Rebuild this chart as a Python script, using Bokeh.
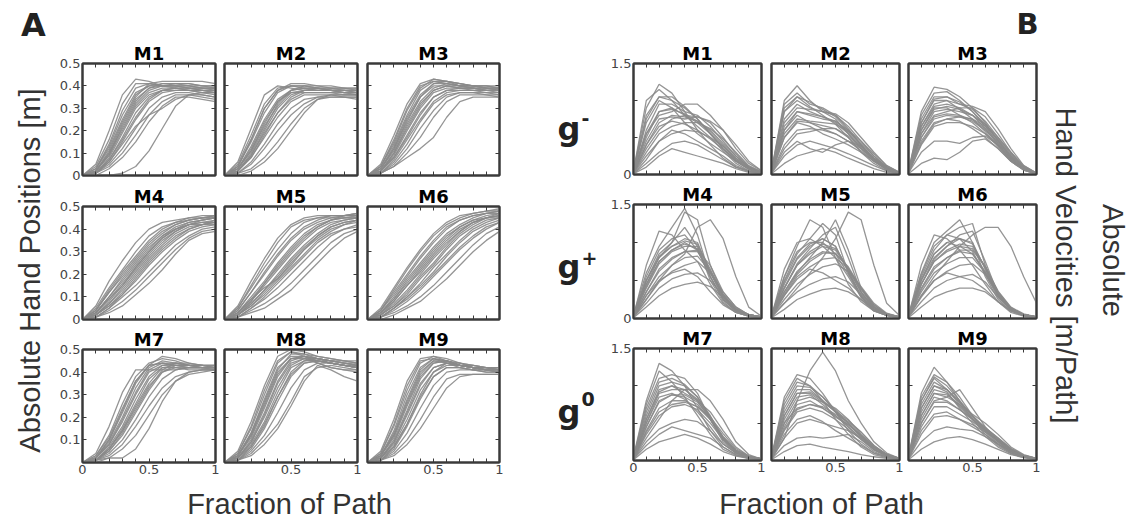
from math import pi
from bokeh.plotting import figure
from bokeh.layouts import row, column
from bokeh.models import Range1d, FixedTicker, LinearAxis, Label, NumeralTickFormatter
from bokeh.embed import file_html
from bokeh.resources import INLINE

# ---------------- data ----------------
X_FRAC = [0.0, 0.1, 0.2, 0.3, 0.4, 0.5, 0.6, 0.7, 0.8, 0.9, 1.0]
X_TICKS = [0.0, 0.1, 0.2, 0.3, 0.4, 0.5, 0.6, 0.7, 0.8, 0.9, 1.0]
POS_Y_TICKS = [0.0, 0.1, 0.2, 0.3, 0.4, 0.5]
VEL_Y_TICKS = [0.0, 0.5, 1.0, 1.5]
TITLES = ["M1", "M2", "M3", "M4", "M5", "M6", "M7", "M8", "M9"]
GROUP_SUPERSCRIPTS = ["-", "+", "0"]

# Absolute hand positions [m] at X_FRAC, per movement
POS_M1 = [
    [0, 0.05, 0.20, 0.36, 0.43, 0.42, 0.40, 0.40, 0.39, 0.39, 0.38],
    [0, 0.04, 0.16, 0.32, 0.41, 0.41, 0.40, 0.40, 0.40, 0.39, 0.39],
    [0, 0.03, 0.13, 0.27, 0.37, 0.40, 0.40, 0.40, 0.39, 0.39, 0.39],
    [0, 0.02, 0.10, 0.23, 0.34, 0.39, 0.40, 0.40, 0.40, 0.39, 0.39],
    [0, 0.02, 0.09, 0.20, 0.31, 0.37, 0.39, 0.39, 0.38, 0.38, 0.37],
    [0, 0.01, 0.07, 0.17, 0.28, 0.35, 0.38, 0.38, 0.38, 0.37, 0.36],
    [0, 0.01, 0.06, 0.15, 0.25, 0.33, 0.37, 0.38, 0.38, 0.38, 0.37],
    [0, 0.01, 0.05, 0.12, 0.21, 0.30, 0.35, 0.37, 0.37, 0.36, 0.35],
    [0, 0.01, 0.04, 0.10, 0.18, 0.27, 0.33, 0.36, 0.36, 0.35, 0.34],
    [0, 0.00, 0.03, 0.08, 0.15, 0.24, 0.31, 0.35, 0.35, 0.34, 0.33],
    [0, 0.00, 0.00, 0.01, 0.04, 0.11, 0.21, 0.31, 0.36, 0.37, 0.37],
    [0, 0.02, 0.11, 0.24, 0.35, 0.41, 0.42, 0.42, 0.42, 0.42, 0.41],
    [0, 0.03, 0.12, 0.25, 0.36, 0.40, 0.41, 0.41, 0.41, 0.40, 0.40],
    [0, 0.01, 0.08, 0.19, 0.30, 0.36, 0.38, 0.39, 0.39, 0.38, 0.38],
    [0, 0.01, 0.06, 0.14, 0.22, 0.27, 0.30, 0.34, 0.36, 0.36, 0.35],
    [0, 0.03, 0.14, 0.29, 0.39, 0.41, 0.40, 0.39, 0.39, 0.38, 0.38],
    [0, 0.02, 0.10, 0.21, 0.32, 0.38, 0.40, 0.41, 0.41, 0.40, 0.40],
    [0, 0.01, 0.07, 0.16, 0.26, 0.34, 0.38, 0.39, 0.38, 0.37, 0.37],
    [0, 0.02, 0.09, 0.22, 0.33, 0.39, 0.41, 0.41, 0.40, 0.40, 0.39],
]
POS_M2 = [
    [0, 0.06, 0.21, 0.36, 0.40, 0.39, 0.38, 0.38, 0.38, 0.37, 0.37],
    [0, 0.05, 0.18, 0.32, 0.39, 0.40, 0.39, 0.39, 0.38, 0.38, 0.38],
    [0, 0.04, 0.15, 0.28, 0.37, 0.40, 0.40, 0.39, 0.39, 0.39, 0.38],
    [0, 0.03, 0.13, 0.25, 0.34, 0.38, 0.39, 0.39, 0.38, 0.38, 0.38],
    [0, 0.03, 0.11, 0.22, 0.31, 0.37, 0.38, 0.38, 0.38, 0.37, 0.37],
    [0, 0.02, 0.09, 0.19, 0.28, 0.34, 0.37, 0.37, 0.37, 0.37, 0.36],
    [0, 0.02, 0.08, 0.17, 0.26, 0.33, 0.36, 0.36, 0.36, 0.35, 0.35],
    [0, 0.01, 0.06, 0.14, 0.23, 0.30, 0.34, 0.35, 0.35, 0.35, 0.34],
    [0, 0.01, 0.05, 0.12, 0.20, 0.27, 0.32, 0.35, 0.36, 0.36, 0.36],
    [0, 0.01, 0.03, 0.08, 0.15, 0.23, 0.30, 0.34, 0.35, 0.35, 0.35],
    [0, 0.00, 0.02, 0.06, 0.12, 0.20, 0.28, 0.34, 0.36, 0.36, 0.36],
    [0, 0.04, 0.16, 0.30, 0.38, 0.41, 0.41, 0.40, 0.40, 0.39, 0.39],
    [0, 0.02, 0.10, 0.21, 0.32, 0.38, 0.40, 0.40, 0.39, 0.39, 0.39],
    [0, 0.03, 0.12, 0.24, 0.33, 0.37, 0.37, 0.37, 0.37, 0.36, 0.36],
    [0, 0.04, 0.16, 0.30, 0.38, 0.40, 0.40, 0.39, 0.38, 0.38, 0.37],
    [0, 0.03, 0.11, 0.23, 0.33, 0.38, 0.39, 0.38, 0.38, 0.37, 0.37],
    [0, 0.02, 0.08, 0.18, 0.28, 0.35, 0.38, 0.38, 0.38, 0.38, 0.37],
    [0, 0.02, 0.09, 0.20, 0.30, 0.36, 0.38, 0.39, 0.39, 0.38, 0.38],
]
POS_M3 = [
    [0, 0.05, 0.18, 0.32, 0.41, 0.43, 0.42, 0.40, 0.39, 0.39, 0.38],
    [0, 0.04, 0.15, 0.29, 0.39, 0.43, 0.42, 0.41, 0.40, 0.39, 0.39],
    [0, 0.03, 0.13, 0.26, 0.36, 0.41, 0.41, 0.40, 0.40, 0.39, 0.39],
    [0, 0.03, 0.11, 0.23, 0.33, 0.39, 0.41, 0.40, 0.40, 0.40, 0.39],
    [0, 0.02, 0.09, 0.20, 0.30, 0.37, 0.39, 0.39, 0.39, 0.38, 0.38],
    [0, 0.02, 0.08, 0.17, 0.27, 0.35, 0.38, 0.38, 0.38, 0.38, 0.37],
    [0, 0.01, 0.06, 0.14, 0.24, 0.32, 0.36, 0.37, 0.37, 0.37, 0.36],
    [0, 0.01, 0.05, 0.12, 0.21, 0.29, 0.35, 0.37, 0.37, 0.36, 0.36],
    [0, 0.01, 0.04, 0.10, 0.17, 0.26, 0.33, 0.36, 0.36, 0.36, 0.35],
    [0, 0.01, 0.04, 0.08, 0.12, 0.17, 0.26, 0.33, 0.35, 0.35, 0.35],
    [0, 0.04, 0.16, 0.30, 0.40, 0.42, 0.41, 0.40, 0.40, 0.40, 0.40],
    [0, 0.02, 0.10, 0.21, 0.31, 0.38, 0.40, 0.40, 0.39, 0.39, 0.38],
    [0, 0.03, 0.12, 0.24, 0.35, 0.40, 0.40, 0.39, 0.38, 0.37, 0.37],
    [0, 0.01, 0.07, 0.16, 0.25, 0.33, 0.37, 0.38, 0.38, 0.38, 0.38],
    [0, 0.04, 0.14, 0.27, 0.38, 0.42, 0.42, 0.41, 0.40, 0.39, 0.39],
    [0, 0.02, 0.10, 0.22, 0.32, 0.38, 0.40, 0.39, 0.39, 0.38, 0.38],
    [0, 0.02, 0.08, 0.18, 0.28, 0.35, 0.38, 0.39, 0.39, 0.38, 0.38],
    [0, 0.03, 0.12, 0.25, 0.35, 0.41, 0.42, 0.41, 0.40, 0.40, 0.39],
]
POS_M4 = [
    [0, 0.06, 0.17, 0.26, 0.34, 0.40, 0.43, 0.44, 0.45, 0.46, 0.46],
    [0, 0.05, 0.14, 0.22, 0.30, 0.37, 0.41, 0.43, 0.44, 0.45, 0.45],
    [0, 0.04, 0.12, 0.20, 0.27, 0.34, 0.39, 0.42, 0.44, 0.45, 0.45],
    [0, 0.03, 0.10, 0.17, 0.24, 0.31, 0.37, 0.41, 0.43, 0.44, 0.45],
    [0, 0.03, 0.09, 0.15, 0.22, 0.29, 0.35, 0.39, 0.42, 0.43, 0.44],
    [0, 0.02, 0.07, 0.13, 0.20, 0.27, 0.33, 0.38, 0.41, 0.42, 0.43],
    [0, 0.02, 0.06, 0.11, 0.17, 0.24, 0.30, 0.35, 0.39, 0.41, 0.42],
    [0, 0.01, 0.05, 0.10, 0.15, 0.21, 0.27, 0.33, 0.37, 0.40, 0.41],
    [0, 0.01, 0.04, 0.08, 0.13, 0.19, 0.25, 0.31, 0.36, 0.39, 0.40],
    [0, 0.01, 0.03, 0.06, 0.11, 0.16, 0.22, 0.29, 0.35, 0.38, 0.39],
    [0, 0.04, 0.13, 0.21, 0.28, 0.35, 0.40, 0.43, 0.45, 0.45, 0.46],
    [0, 0.02, 0.08, 0.15, 0.23, 0.30, 0.36, 0.40, 0.42, 0.43, 0.43],
    [0, 0.03, 0.10, 0.18, 0.25, 0.32, 0.37, 0.40, 0.42, 0.42, 0.42],
    [0, 0.01, 0.05, 0.11, 0.18, 0.25, 0.31, 0.36, 0.40, 0.42, 0.44],
    [0, 0.04, 0.12, 0.19, 0.26, 0.33, 0.38, 0.42, 0.44, 0.45, 0.46],
    [0, 0.03, 0.09, 0.16, 0.23, 0.30, 0.36, 0.40, 0.43, 0.44, 0.45],
    [0, 0.02, 0.07, 0.14, 0.21, 0.28, 0.34, 0.39, 0.42, 0.44, 0.45],
    [0, 0.02, 0.06, 0.12, 0.19, 0.26, 0.32, 0.37, 0.40, 0.42, 0.43],
]
POS_M5 = [
    [0, 0.06, 0.17, 0.27, 0.36, 0.42, 0.45, 0.46, 0.46, 0.46, 0.46],
    [0, 0.05, 0.14, 0.23, 0.31, 0.38, 0.43, 0.45, 0.46, 0.46, 0.47],
    [0, 0.04, 0.12, 0.20, 0.28, 0.35, 0.40, 0.43, 0.45, 0.46, 0.46],
    [0, 0.03, 0.10, 0.17, 0.25, 0.32, 0.38, 0.42, 0.44, 0.45, 0.45],
    [0, 0.03, 0.08, 0.15, 0.22, 0.29, 0.35, 0.40, 0.43, 0.44, 0.45],
    [0, 0.02, 0.07, 0.13, 0.19, 0.26, 0.32, 0.37, 0.41, 0.43, 0.44],
    [0, 0.02, 0.06, 0.11, 0.17, 0.23, 0.29, 0.35, 0.39, 0.42, 0.43],
    [0, 0.01, 0.05, 0.09, 0.14, 0.20, 0.26, 0.32, 0.37, 0.40, 0.42],
    [0, 0.01, 0.04, 0.07, 0.11, 0.16, 0.22, 0.28, 0.34, 0.38, 0.40],
    [0, 0.01, 0.03, 0.05, 0.09, 0.13, 0.19, 0.25, 0.31, 0.36, 0.39],
    [0, 0.05, 0.15, 0.25, 0.34, 0.41, 0.44, 0.45, 0.45, 0.45, 0.45],
    [0, 0.02, 0.08, 0.16, 0.24, 0.31, 0.37, 0.41, 0.44, 0.46, 0.47],
    [0, 0.03, 0.09, 0.14, 0.18, 0.24, 0.31, 0.37, 0.41, 0.43, 0.44],
    [0, 0.01, 0.05, 0.10, 0.16, 0.22, 0.28, 0.34, 0.38, 0.40, 0.41],
    [0, 0.04, 0.12, 0.21, 0.29, 0.36, 0.41, 0.44, 0.46, 0.46, 0.47],
    [0, 0.03, 0.09, 0.16, 0.23, 0.30, 0.36, 0.41, 0.44, 0.45, 0.46],
    [0, 0.02, 0.07, 0.13, 0.20, 0.27, 0.33, 0.38, 0.42, 0.44, 0.45],
    [0, 0.02, 0.06, 0.12, 0.18, 0.25, 0.31, 0.36, 0.40, 0.42, 0.44],
]
POS_M6 = [
    [0, 0.05, 0.14, 0.23, 0.31, 0.38, 0.43, 0.46, 0.47, 0.48, 0.48],
    [0, 0.04, 0.12, 0.20, 0.28, 0.35, 0.41, 0.44, 0.46, 0.47, 0.48],
    [0, 0.03, 0.10, 0.18, 0.25, 0.32, 0.38, 0.42, 0.45, 0.47, 0.47],
    [0, 0.03, 0.09, 0.16, 0.23, 0.30, 0.36, 0.41, 0.44, 0.46, 0.47],
    [0, 0.02, 0.07, 0.13, 0.20, 0.27, 0.33, 0.39, 0.43, 0.45, 0.46],
    [0, 0.02, 0.06, 0.11, 0.18, 0.24, 0.31, 0.37, 0.41, 0.44, 0.45],
    [0, 0.01, 0.05, 0.10, 0.15, 0.21, 0.28, 0.34, 0.39, 0.42, 0.44],
    [0, 0.01, 0.04, 0.08, 0.13, 0.19, 0.25, 0.31, 0.36, 0.40, 0.43],
    [0, 0.01, 0.03, 0.06, 0.10, 0.15, 0.21, 0.27, 0.33, 0.38, 0.41],
    [0, 0.00, 0.02, 0.05, 0.08, 0.13, 0.18, 0.24, 0.30, 0.35, 0.39],
    [0, 0.04, 0.13, 0.22, 0.30, 0.37, 0.42, 0.45, 0.47, 0.48, 0.49],
    [0, 0.02, 0.08, 0.15, 0.22, 0.29, 0.35, 0.40, 0.43, 0.45, 0.46],
    [0, 0.03, 0.09, 0.17, 0.24, 0.31, 0.37, 0.41, 0.44, 0.45, 0.45],
    [0, 0.01, 0.05, 0.09, 0.14, 0.20, 0.26, 0.32, 0.37, 0.41, 0.43],
    [0, 0.04, 0.11, 0.19, 0.27, 0.34, 0.40, 0.44, 0.46, 0.47, 0.48],
    [0, 0.03, 0.08, 0.15, 0.21, 0.28, 0.34, 0.39, 0.43, 0.45, 0.46],
    [0, 0.02, 0.06, 0.12, 0.19, 0.25, 0.32, 0.38, 0.42, 0.45, 0.47],
    [0, 0.01, 0.05, 0.10, 0.16, 0.23, 0.29, 0.35, 0.40, 0.43, 0.45],
]
POS_M7 = [
    [0, 0.04, 0.16, 0.31, 0.41, 0.41, 0.41, 0.41, 0.42, 0.42, 0.42],
    [0, 0.03, 0.12, 0.26, 0.38, 0.44, 0.46, 0.45, 0.43, 0.43, 0.42],
    [0, 0.02, 0.10, 0.22, 0.35, 0.43, 0.47, 0.46, 0.44, 0.43, 0.43],
    [0, 0.02, 0.08, 0.19, 0.31, 0.41, 0.44, 0.44, 0.43, 0.43, 0.42],
    [0, 0.01, 0.07, 0.16, 0.28, 0.38, 0.43, 0.44, 0.43, 0.43, 0.43],
    [0, 0.01, 0.06, 0.14, 0.25, 0.35, 0.42, 0.43, 0.43, 0.42, 0.42],
    [0, 0.01, 0.05, 0.12, 0.22, 0.32, 0.40, 0.43, 0.43, 0.43, 0.42],
    [0, 0.01, 0.04, 0.10, 0.19, 0.29, 0.37, 0.41, 0.42, 0.42, 0.42],
    [0, 0.01, 0.03, 0.08, 0.16, 0.25, 0.33, 0.38, 0.40, 0.41, 0.41],
    [0, 0.00, 0.02, 0.06, 0.12, 0.21, 0.30, 0.36, 0.39, 0.40, 0.41],
    [0, 0.01, 0.02, 0.02, 0.06, 0.15, 0.27, 0.36, 0.40, 0.41, 0.41],
    [0, 0.03, 0.11, 0.24, 0.36, 0.43, 0.44, 0.43, 0.42, 0.42, 0.41],
    [0, 0.02, 0.09, 0.20, 0.33, 0.42, 0.45, 0.44, 0.43, 0.42, 0.42],
    [0, 0.01, 0.06, 0.15, 0.26, 0.37, 0.42, 0.42, 0.41, 0.41, 0.41],
    [0, 0.02, 0.10, 0.23, 0.36, 0.43, 0.44, 0.43, 0.43, 0.42, 0.42],
    [0, 0.02, 0.08, 0.18, 0.30, 0.40, 0.43, 0.43, 0.42, 0.42, 0.42],
    [0, 0.01, 0.06, 0.14, 0.24, 0.34, 0.40, 0.42, 0.42, 0.42, 0.42],
    [0, 0.01, 0.05, 0.13, 0.23, 0.33, 0.41, 0.44, 0.44, 0.43, 0.43],
]
POS_M8 = [
    [0, 0.05, 0.18, 0.34, 0.47, 0.50, 0.49, 0.47, 0.46, 0.45, 0.44],
    [0, 0.04, 0.15, 0.30, 0.44, 0.49, 0.48, 0.47, 0.46, 0.45, 0.45],
    [0, 0.03, 0.13, 0.27, 0.41, 0.48, 0.48, 0.46, 0.45, 0.44, 0.43],
    [0, 0.03, 0.11, 0.24, 0.38, 0.46, 0.47, 0.45, 0.44, 0.43, 0.42],
    [0, 0.02, 0.09, 0.21, 0.35, 0.44, 0.46, 0.45, 0.44, 0.43, 0.42],
    [0, 0.02, 0.08, 0.18, 0.31, 0.42, 0.45, 0.45, 0.44, 0.43, 0.42],
    [0, 0.01, 0.06, 0.15, 0.27, 0.38, 0.44, 0.45, 0.44, 0.43, 0.43],
    [0, 0.01, 0.05, 0.12, 0.22, 0.33, 0.41, 0.44, 0.44, 0.43, 0.42],
    [0, 0.01, 0.04, 0.10, 0.17, 0.27, 0.38, 0.42, 0.43, 0.42, 0.41],
    [0, 0.01, 0.03, 0.08, 0.15, 0.25, 0.36, 0.43, 0.41, 0.38, 0.36],
    [0, 0.04, 0.16, 0.32, 0.45, 0.49, 0.47, 0.44, 0.42, 0.41, 0.40],
    [0, 0.02, 0.10, 0.22, 0.36, 0.45, 0.47, 0.46, 0.45, 0.45, 0.44],
    [0, 0.03, 0.12, 0.26, 0.40, 0.46, 0.46, 0.44, 0.42, 0.41, 0.41],
    [0, 0.01, 0.07, 0.16, 0.29, 0.40, 0.45, 0.46, 0.45, 0.44, 0.44],
    [0, 0.03, 0.12, 0.25, 0.39, 0.46, 0.47, 0.46, 0.45, 0.44, 0.43],
    [0, 0.02, 0.09, 0.20, 0.33, 0.43, 0.46, 0.46, 0.45, 0.44, 0.43],
    [0, 0.02, 0.07, 0.17, 0.29, 0.39, 0.44, 0.45, 0.44, 0.43, 0.42],
    [0, 0.03, 0.13, 0.28, 0.42, 0.47, 0.47, 0.46, 0.44, 0.43, 0.42],
]
POS_M9 = [
    [0, 0.05, 0.19, 0.36, 0.46, 0.47, 0.45, 0.43, 0.42, 0.42, 0.41],
    [0, 0.04, 0.16, 0.32, 0.44, 0.47, 0.46, 0.44, 0.42, 0.42, 0.42],
    [0, 0.03, 0.13, 0.28, 0.41, 0.46, 0.45, 0.43, 0.42, 0.41, 0.41],
    [0, 0.03, 0.11, 0.25, 0.38, 0.44, 0.45, 0.43, 0.42, 0.42, 0.41],
    [0, 0.02, 0.09, 0.22, 0.35, 0.42, 0.44, 0.43, 0.42, 0.41, 0.41],
    [0, 0.02, 0.08, 0.19, 0.32, 0.40, 0.43, 0.43, 0.42, 0.41, 0.40],
    [0, 0.01, 0.06, 0.16, 0.28, 0.38, 0.42, 0.42, 0.41, 0.41, 0.40],
    [0, 0.01, 0.05, 0.13, 0.24, 0.34, 0.40, 0.41, 0.41, 0.40, 0.40],
    [0, 0.01, 0.04, 0.10, 0.19, 0.29, 0.37, 0.39, 0.39, 0.39, 0.39],
    [0, 0.01, 0.03, 0.08, 0.15, 0.24, 0.33, 0.38, 0.39, 0.39, 0.39],
    [0, 0.04, 0.17, 0.34, 0.45, 0.46, 0.44, 0.43, 0.43, 0.42, 0.42],
    [0, 0.02, 0.10, 0.23, 0.37, 0.44, 0.45, 0.44, 0.43, 0.42, 0.42],
    [0, 0.03, 0.12, 0.27, 0.40, 0.45, 0.44, 0.42, 0.41, 0.40, 0.40],
    [0, 0.01, 0.07, 0.17, 0.30, 0.40, 0.44, 0.44, 0.43, 0.42, 0.41],
    [0, 0.03, 0.12, 0.26, 0.39, 0.45, 0.45, 0.43, 0.42, 0.42, 0.41],
    [0, 0.02, 0.09, 0.21, 0.34, 0.42, 0.44, 0.43, 0.42, 0.41, 0.41],
    [0, 0.02, 0.07, 0.17, 0.29, 0.38, 0.42, 0.42, 0.41, 0.41, 0.40],
    [0, 0.03, 0.14, 0.30, 0.42, 0.46, 0.45, 0.43, 0.42, 0.41, 0.41],
]

# Absolute hand velocities [m/Path] at X_FRAC, per movement
VEL_M1 = [
    [0.05, 0.90, 1.22, 1.10, 0.85, 0.60, 0.40, 0.22, 0.10, 0.04, 0.01],
    [0.05, 0.80, 1.05, 1.00, 0.90, 0.75, 0.55, 0.35, 0.18, 0.07, 0.02],
    [0.03, 0.60, 0.95, 0.95, 0.85, 0.80, 0.65, 0.45, 0.25, 0.10, 0.03],
    [0.03, 0.50, 0.85, 0.90, 0.80, 0.70, 0.55, 0.38, 0.20, 0.08, 0.02],
    [0.02, 0.40, 0.70, 0.80, 0.78, 0.72, 0.60, 0.42, 0.25, 0.10, 0.03],
    [0.02, 0.30, 0.55, 0.65, 0.70, 0.70, 0.62, 0.48, 0.30, 0.12, 0.04],
    [0.02, 0.25, 0.45, 0.55, 0.60, 0.58, 0.50, 0.38, 0.22, 0.10, 0.03],
    [0.01, 0.15, 0.30, 0.42, 0.45, 0.40, 0.30, 0.20, 0.10, 0.05, 0.02],
    [0.01, 0.10, 0.25, 0.35, 0.30, 0.25, 0.20, 0.15, 0.08, 0.03, 0.01],
    [0.05, 1.00, 1.15, 1.00, 0.80, 0.65, 0.50, 0.32, 0.15, 0.05, 0.01],
    [0.03, 0.55, 0.80, 0.85, 0.95, 0.95, 0.80, 0.60, 0.35, 0.15, 0.05],
    [0.02, 0.35, 0.60, 0.75, 0.80, 0.78, 0.72, 0.60, 0.40, 0.18, 0.05],
    [0.01, 0.20, 0.45, 0.60, 0.55, 0.45, 0.35, 0.25, 0.12, 0.05, 0.02],
    [0.04, 0.70, 1.00, 0.90, 0.70, 0.55, 0.42, 0.30, 0.18, 0.08, 0.02],
    [0.04, 0.75, 1.05, 1.05, 0.92, 0.75, 0.55, 0.35, 0.18, 0.07, 0.02],
    [0.03, 0.55, 0.85, 0.88, 0.82, 0.72, 0.58, 0.40, 0.22, 0.09, 0.03],
    [0.02, 0.40, 0.65, 0.72, 0.68, 0.60, 0.48, 0.34, 0.20, 0.08, 0.02],
    [0.03, 0.45, 0.75, 0.78, 0.75, 0.78, 0.70, 0.50, 0.28, 0.11, 0.03],
]
VEL_M2 = [
    [0.05, 1.00, 1.20, 1.00, 0.85, 0.75, 0.55, 0.35, 0.18, 0.06, 0.01],
    [0.05, 0.95, 1.10, 0.95, 0.90, 0.80, 0.62, 0.40, 0.20, 0.07, 0.02],
    [0.04, 0.85, 1.00, 0.90, 0.85, 0.80, 0.65, 0.45, 0.25, 0.10, 0.02],
    [0.04, 0.75, 0.95, 0.85, 0.78, 0.70, 0.55, 0.38, 0.20, 0.08, 0.02],
    [0.03, 0.65, 0.85, 0.80, 0.75, 0.72, 0.60, 0.45, 0.28, 0.12, 0.03],
    [0.03, 0.55, 0.75, 0.72, 0.70, 0.68, 0.58, 0.42, 0.25, 0.10, 0.02],
    [0.02, 0.40, 0.60, 0.62, 0.60, 0.55, 0.45, 0.32, 0.18, 0.08, 0.02],
    [0.02, 0.25, 0.40, 0.45, 0.40, 0.35, 0.28, 0.20, 0.12, 0.05, 0.01],
    [0.01, 0.15, 0.25, 0.30, 0.35, 0.30, 0.22, 0.15, 0.08, 0.03, 0.01],
    [0.02, 0.30, 0.45, 0.35, 0.30, 0.40, 0.45, 0.38, 0.22, 0.08, 0.02],
    [0.04, 0.90, 1.05, 0.92, 0.80, 0.68, 0.50, 0.30, 0.15, 0.05, 0.01],
    [0.03, 0.70, 0.90, 0.88, 0.85, 0.82, 0.70, 0.50, 0.30, 0.12, 0.03],
    [0.02, 0.50, 0.70, 0.65, 0.55, 0.48, 0.40, 0.30, 0.18, 0.07, 0.02],
    [0.03, 0.60, 0.80, 0.70, 0.62, 0.55, 0.45, 0.35, 0.22, 0.10, 0.02],
    [0.04, 0.85, 1.05, 0.98, 0.88, 0.78, 0.60, 0.40, 0.22, 0.08, 0.02],
    [0.03, 0.60, 0.85, 0.82, 0.78, 0.72, 0.58, 0.40, 0.22, 0.09, 0.02],
    [0.03, 0.50, 0.72, 0.70, 0.66, 0.62, 0.52, 0.38, 0.22, 0.09, 0.02],
    [0.02, 0.35, 0.55, 0.58, 0.62, 0.62, 0.50, 0.35, 0.20, 0.08, 0.02],
]
VEL_M3 = [
    [0.05, 0.85, 1.18, 1.15, 1.05, 0.90, 0.70, 0.45, 0.22, 0.08, 0.01],
    [0.05, 0.80, 1.10, 1.12, 1.00, 0.85, 0.65, 0.42, 0.20, 0.07, 0.01],
    [0.04, 0.70, 1.00, 1.00, 0.95, 0.88, 0.72, 0.50, 0.28, 0.10, 0.02],
    [0.04, 0.65, 0.92, 0.95, 0.90, 0.80, 0.62, 0.40, 0.20, 0.07, 0.01],
    [0.03, 0.55, 0.85, 0.88, 0.85, 0.80, 0.68, 0.50, 0.30, 0.12, 0.02],
    [0.03, 0.50, 0.75, 0.80, 0.78, 0.72, 0.60, 0.42, 0.25, 0.10, 0.02],
    [0.02, 0.40, 0.65, 0.70, 0.70, 0.65, 0.55, 0.40, 0.22, 0.08, 0.02],
    [0.02, 0.30, 0.45, 0.45, 0.42, 0.50, 0.52, 0.40, 0.22, 0.08, 0.01],
    [0.01, 0.15, 0.22, 0.20, 0.30, 0.45, 0.48, 0.35, 0.18, 0.06, 0.01],
    [0.04, 0.75, 1.05, 1.05, 0.95, 0.92, 0.85, 0.62, 0.35, 0.12, 0.02],
    [0.03, 0.60, 0.90, 0.90, 0.80, 0.70, 0.55, 0.38, 0.20, 0.07, 0.01],
    [0.03, 0.55, 0.80, 0.85, 0.90, 0.90, 0.78, 0.55, 0.30, 0.10, 0.02],
    [0.02, 0.45, 0.70, 0.75, 0.72, 0.62, 0.50, 0.35, 0.18, 0.06, 0.01],
    [0.03, 0.65, 0.95, 1.00, 0.88, 0.75, 0.58, 0.38, 0.18, 0.06, 0.01],
    [0.04, 0.70, 1.02, 1.05, 0.98, 0.85, 0.68, 0.46, 0.24, 0.08, 0.01],
    [0.03, 0.60, 0.88, 0.92, 0.88, 0.80, 0.66, 0.46, 0.25, 0.09, 0.02],
    [0.03, 0.50, 0.78, 0.82, 0.80, 0.74, 0.62, 0.44, 0.24, 0.09, 0.02],
    [0.02, 0.42, 0.68, 0.75, 0.78, 0.75, 0.65, 0.48, 0.26, 0.09, 0.02],
]
VEL_M4 = [
    [0.05, 0.60, 0.95, 1.20, 1.45, 1.10, 0.55, 0.25, 0.10, 0.04, 0.02],
    [0.04, 0.50, 0.85, 1.00, 1.40, 1.30, 0.70, 0.30, 0.12, 0.05, 0.02],
    [0.04, 0.45, 0.80, 0.95, 1.05, 1.00, 0.60, 0.28, 0.10, 0.04, 0.02],
    [0.03, 0.40, 0.72, 0.88, 0.95, 0.95, 0.65, 0.30, 0.12, 0.05, 0.02],
    [0.03, 0.35, 0.65, 0.80, 0.88, 0.90, 0.70, 0.35, 0.15, 0.05, 0.02],
    [0.02, 0.30, 0.55, 0.70, 0.80, 0.82, 0.62, 0.32, 0.12, 0.04, 0.01],
    [0.02, 0.25, 0.48, 0.62, 0.70, 0.75, 0.60, 0.35, 0.15, 0.05, 0.02],
    [0.02, 0.20, 0.40, 0.52, 0.58, 0.60, 0.50, 0.30, 0.12, 0.05, 0.01],
    [0.01, 0.15, 0.30, 0.40, 0.45, 0.48, 0.42, 0.28, 0.12, 0.04, 0.01],
    [0.02, 0.25, 0.50, 0.70, 0.85, 1.20, 1.30, 1.05, 0.55, 0.15, 0.03],
    [0.03, 0.70, 1.15, 1.10, 0.90, 0.75, 0.45, 0.20, 0.08, 0.03, 0.01],
    [0.03, 0.45, 0.75, 0.90, 1.00, 0.90, 0.55, 0.25, 0.10, 0.04, 0.01],
    [0.02, 0.30, 0.50, 0.60, 0.65, 0.55, 0.35, 0.18, 0.08, 0.03, 0.01],
    [0.03, 0.50, 0.80, 1.00, 1.20, 0.95, 0.50, 0.22, 0.08, 0.03, 0.01],
    [0.03, 0.50, 0.82, 0.95, 1.02, 0.98, 0.62, 0.28, 0.11, 0.04, 0.02],
    [0.03, 0.42, 0.75, 0.90, 0.98, 0.92, 0.60, 0.30, 0.12, 0.05, 0.02],
    [0.02, 0.35, 0.62, 0.78, 0.88, 0.88, 0.62, 0.32, 0.13, 0.05, 0.02],
    [0.03, 0.55, 0.90, 1.05, 1.10, 0.90, 0.55, 0.25, 0.10, 0.04, 0.01],
]
VEL_M5 = [
    [0.04, 0.55, 0.95, 1.30, 1.20, 0.80, 0.45, 0.22, 0.10, 0.04, 0.02],
    [0.04, 0.50, 0.85, 1.05, 1.25, 1.10, 0.60, 0.28, 0.12, 0.05, 0.02],
    [0.03, 0.45, 0.78, 0.95, 1.05, 0.95, 0.62, 0.30, 0.12, 0.05, 0.02],
    [0.03, 0.40, 0.70, 0.85, 0.95, 0.90, 0.65, 0.35, 0.15, 0.05, 0.02],
    [0.03, 0.35, 0.62, 0.78, 0.88, 0.85, 0.68, 0.40, 0.18, 0.06, 0.02],
    [0.02, 0.30, 0.55, 0.68, 0.78, 0.80, 0.65, 0.40, 0.18, 0.06, 0.02],
    [0.02, 0.25, 0.45, 0.58, 0.68, 0.72, 0.62, 0.42, 0.20, 0.07, 0.02],
    [0.02, 0.20, 0.35, 0.45, 0.52, 0.55, 0.48, 0.32, 0.15, 0.05, 0.01],
    [0.01, 0.12, 0.25, 0.32, 0.38, 0.40, 0.35, 0.25, 0.12, 0.04, 0.01],
    [0.02, 0.20, 0.40, 0.60, 0.80, 1.05, 1.40, 1.30, 0.70, 0.20, 0.04],
    [0.03, 0.65, 1.00, 1.05, 0.95, 0.80, 0.55, 0.28, 0.10, 0.04, 0.01],
    [0.03, 0.40, 0.72, 0.92, 1.10, 1.20, 0.80, 0.35, 0.12, 0.04, 0.01],
    [0.02, 0.30, 0.52, 0.65, 0.60, 0.50, 0.40, 0.25, 0.10, 0.04, 0.01],
    [0.02, 0.35, 0.60, 0.80, 1.00, 1.30, 0.90, 0.40, 0.15, 0.05, 0.01],
    [0.03, 0.48, 0.80, 0.98, 1.05, 0.95, 0.62, 0.30, 0.12, 0.05, 0.02],
    [0.03, 0.40, 0.70, 0.88, 0.98, 0.92, 0.66, 0.34, 0.14, 0.05, 0.02],
    [0.02, 0.32, 0.58, 0.75, 0.86, 0.86, 0.66, 0.38, 0.16, 0.06, 0.02],
    [0.03, 0.55, 0.88, 1.00, 1.00, 0.85, 0.58, 0.30, 0.12, 0.05, 0.02],
]
VEL_M6 = [
    [0.05, 0.60, 1.00, 1.15, 1.30, 1.00, 0.55, 0.25, 0.10, 0.04, 0.02],
    [0.04, 0.55, 0.90, 1.10, 1.20, 1.25, 0.70, 0.30, 0.12, 0.05, 0.02],
    [0.04, 0.50, 0.80, 0.95, 1.05, 1.00, 0.65, 0.30, 0.12, 0.05, 0.02],
    [0.03, 0.45, 0.75, 0.88, 0.95, 0.92, 0.68, 0.35, 0.14, 0.05, 0.02],
    [0.03, 0.40, 0.68, 0.80, 0.88, 0.85, 0.62, 0.32, 0.12, 0.05, 0.02],
    [0.02, 0.35, 0.60, 0.72, 0.80, 0.80, 0.60, 0.32, 0.13, 0.05, 0.02],
    [0.02, 0.28, 0.50, 0.62, 0.70, 0.72, 0.58, 0.32, 0.14, 0.05, 0.01],
    [0.02, 0.22, 0.40, 0.50, 0.55, 0.58, 0.48, 0.28, 0.12, 0.04, 0.01],
    [0.01, 0.15, 0.28, 0.35, 0.40, 0.40, 0.35, 0.22, 0.10, 0.04, 0.01],
    [0.02, 0.30, 0.55, 0.75, 0.95, 1.10, 1.20, 1.20, 0.95, 0.55, 0.20],
    [0.03, 0.70, 1.10, 1.05, 0.90, 0.70, 0.45, 0.22, 0.08, 0.03, 0.01],
    [0.03, 0.45, 0.78, 0.95, 1.10, 1.15, 0.75, 0.32, 0.12, 0.04, 0.01],
    [0.02, 0.30, 0.50, 0.60, 0.55, 0.50, 0.38, 0.22, 0.10, 0.04, 0.01],
    [0.03, 0.50, 0.85, 1.00, 0.95, 0.85, 0.60, 0.30, 0.12, 0.05, 0.02],
    [0.03, 0.52, 0.85, 1.00, 1.05, 0.98, 0.66, 0.32, 0.13, 0.05, 0.02],
    [0.03, 0.45, 0.75, 0.90, 0.98, 0.95, 0.68, 0.34, 0.14, 0.05, 0.02],
    [0.02, 0.38, 0.65, 0.80, 0.90, 0.90, 0.68, 0.36, 0.15, 0.06, 0.02],
    [0.03, 0.58, 0.95, 1.10, 1.05, 0.88, 0.58, 0.28, 0.11, 0.04, 0.02],
]
VEL_M7 = [
    [0.05, 0.80, 1.30, 1.20, 1.00, 0.70, 0.40, 0.18, 0.08, 0.04, 0.02],
    [0.04, 0.70, 1.10, 1.15, 1.10, 0.90, 0.55, 0.25, 0.10, 0.05, 0.02],
    [0.04, 0.60, 1.00, 1.05, 1.00, 0.85, 0.60, 0.30, 0.12, 0.05, 0.02],
    [0.03, 0.50, 0.90, 0.95, 0.95, 0.80, 0.55, 0.28, 0.12, 0.05, 0.02],
    [0.03, 0.45, 0.80, 0.88, 0.85, 0.75, 0.55, 0.30, 0.12, 0.05, 0.02],
    [0.03, 0.40, 0.70, 0.80, 0.80, 0.72, 0.55, 0.32, 0.14, 0.06, 0.02],
    [0.02, 0.35, 0.60, 0.72, 0.75, 0.68, 0.50, 0.28, 0.12, 0.05, 0.02],
    [0.02, 0.25, 0.42, 0.50, 0.55, 0.52, 0.40, 0.22, 0.10, 0.04, 0.01],
    [0.01, 0.15, 0.25, 0.30, 0.35, 0.30, 0.22, 0.12, 0.06, 0.03, 0.01],
    [0.02, 0.30, 0.55, 0.80, 0.95, 0.95, 0.80, 0.55, 0.25, 0.08, 0.02],
    [0.04, 0.75, 1.20, 1.05, 0.85, 0.60, 0.35, 0.15, 0.07, 0.03, 0.01],
    [0.03, 0.55, 0.95, 1.00, 0.90, 0.80, 0.65, 0.40, 0.18, 0.06, 0.02],
    [0.02, 0.20, 0.35, 0.45, 0.40, 0.35, 0.30, 0.18, 0.08, 0.03, 0.01],
    [0.03, 0.50, 0.85, 0.90, 0.82, 0.65, 0.45, 0.22, 0.10, 0.04, 0.02],
    [0.04, 0.65, 1.05, 1.10, 1.02, 0.85, 0.58, 0.28, 0.11, 0.05, 0.02],
    [0.03, 0.55, 0.92, 1.00, 0.95, 0.82, 0.58, 0.30, 0.12, 0.05, 0.02],
    [0.03, 0.45, 0.78, 0.88, 0.88, 0.78, 0.58, 0.32, 0.14, 0.06, 0.02],
    [0.02, 0.38, 0.65, 0.75, 0.78, 0.72, 0.58, 0.36, 0.16, 0.06, 0.02],
]
VEL_M8 = [
    [0.05, 0.85, 1.15, 1.10, 0.90, 0.65, 0.40, 0.22, 0.10, 0.05, 0.02],
    [0.04, 0.75, 1.05, 1.00, 0.85, 0.65, 0.45, 0.28, 0.14, 0.06, 0.02],
    [0.04, 0.65, 0.95, 0.95, 0.80, 0.65, 0.50, 0.32, 0.16, 0.07, 0.03],
    [0.03, 0.55, 0.85, 0.88, 0.75, 0.60, 0.45, 0.30, 0.15, 0.06, 0.02],
    [0.03, 0.45, 0.75, 0.80, 0.70, 0.58, 0.48, 0.32, 0.18, 0.08, 0.03],
    [0.02, 0.40, 0.65, 0.70, 0.65, 0.55, 0.42, 0.28, 0.15, 0.06, 0.02],
    [0.02, 0.30, 0.50, 0.55, 0.50, 0.45, 0.40, 0.30, 0.16, 0.07, 0.02],
    [0.02, 0.20, 0.30, 0.32, 0.30, 0.32, 0.35, 0.25, 0.12, 0.05, 0.02],
    [0.01, 0.12, 0.20, 0.22, 0.18, 0.15, 0.12, 0.08, 0.05, 0.03, 0.01],
    [0.02, 0.30, 0.80, 1.20, 1.45, 1.20, 0.80, 0.50, 0.25, 0.10, 0.03],
    [0.04, 0.80, 1.10, 1.00, 0.80, 0.55, 0.35, 0.18, 0.08, 0.04, 0.02],
    [0.03, 0.60, 0.90, 0.90, 0.78, 0.70, 0.55, 0.35, 0.18, 0.08, 0.03],
    [0.02, 0.35, 0.55, 0.60, 0.52, 0.40, 0.30, 0.20, 0.10, 0.05, 0.02],
    [0.03, 0.50, 0.70, 0.75, 0.72, 0.62, 0.52, 0.38, 0.20, 0.08, 0.02],
    [0.04, 0.70, 1.00, 0.98, 0.85, 0.68, 0.50, 0.32, 0.16, 0.07, 0.02],
    [0.03, 0.60, 0.90, 0.92, 0.80, 0.65, 0.50, 0.34, 0.18, 0.08, 0.03],
    [0.03, 0.50, 0.80, 0.85, 0.78, 0.66, 0.54, 0.38, 0.20, 0.08, 0.03],
    [0.02, 0.42, 0.68, 0.75, 0.70, 0.60, 0.48, 0.34, 0.18, 0.08, 0.02],
]
VEL_M9 = [
    [0.05, 0.90, 1.25, 1.05, 0.80, 0.55, 0.35, 0.20, 0.10, 0.05, 0.02],
    [0.05, 0.85, 1.15, 1.05, 0.85, 0.60, 0.40, 0.24, 0.12, 0.06, 0.02],
    [0.04, 0.75, 1.05, 0.95, 0.78, 0.60, 0.42, 0.26, 0.14, 0.06, 0.02],
    [0.04, 0.65, 0.95, 0.90, 0.72, 0.55, 0.40, 0.26, 0.14, 0.06, 0.02],
    [0.03, 0.55, 0.85, 0.80, 0.68, 0.55, 0.42, 0.28, 0.15, 0.07, 0.03],
    [0.03, 0.45, 0.72, 0.72, 0.62, 0.52, 0.40, 0.28, 0.15, 0.07, 0.03],
    [0.02, 0.35, 0.58, 0.60, 0.55, 0.48, 0.38, 0.26, 0.14, 0.06, 0.02],
    [0.02, 0.25, 0.40, 0.45, 0.42, 0.40, 0.32, 0.22, 0.12, 0.05, 0.02],
    [0.01, 0.15, 0.25, 0.30, 0.32, 0.28, 0.22, 0.15, 0.08, 0.04, 0.01],
    [0.03, 0.50, 0.80, 0.85, 0.95, 0.70, 0.45, 0.25, 0.12, 0.05, 0.02],
    [0.04, 0.80, 1.10, 0.95, 0.75, 0.55, 0.38, 0.22, 0.10, 0.05, 0.02],
    [0.03, 0.60, 0.90, 0.85, 0.75, 0.62, 0.50, 0.35, 0.18, 0.08, 0.03],
    [0.02, 0.40, 0.62, 0.65, 0.55, 0.45, 0.35, 0.22, 0.12, 0.05, 0.02],
    [0.03, 0.70, 1.00, 0.92, 0.70, 0.50, 0.32, 0.18, 0.09, 0.04, 0.02],
    [0.04, 0.80, 1.12, 1.00, 0.80, 0.60, 0.42, 0.26, 0.13, 0.06, 0.02],
    [0.04, 0.70, 1.00, 0.95, 0.78, 0.60, 0.44, 0.28, 0.14, 0.06, 0.02],
    [0.03, 0.60, 0.90, 0.88, 0.74, 0.58, 0.44, 0.30, 0.16, 0.07, 0.02],
    [0.03, 0.50, 0.78, 0.78, 0.68, 0.56, 0.44, 0.30, 0.16, 0.07, 0.03],
]

POS = [POS_M1, POS_M2, POS_M3, POS_M4, POS_M5, POS_M6, POS_M7, POS_M8, POS_M9]
VEL = [VEL_M1, VEL_M2, VEL_M3, VEL_M4, VEL_M5, VEL_M6, VEL_M7, VEL_M8, VEL_M9]

# ---------------- styling ----------------
LINE = "#8a8a8a"
FRAME = "#3a3a3a"
TICK_TXT = "#444444"
LABEL_TXT = "#333333"


def style_axis(ax, major, minor, standoff=2):
    ax.ticker = FixedTicker(ticks=major, minor_ticks=minor)
    ax.formatter = NumeralTickFormatter(format="0.[0]")
    ax.axis_line_color = FRAME
    ax.axis_line_width = 2
    ax.major_tick_in = 4
    ax.major_tick_out = 0
    ax.minor_tick_in = 4
    ax.minor_tick_out = 0
    ax.major_tick_line_color = FRAME
    ax.minor_tick_line_color = FRAME
    ax.major_tick_line_width = 1
    ax.minor_tick_line_width = 1
    ax.major_label_text_font = "DejaVu Sans"
    ax.major_label_text_font_size = "13px"
    ax.major_label_text_color = TICK_TXT
    ax.major_label_standoff = standoff


def subplot(title, curves, y_ticks, y_major, x_major, fw, fh, bl, br, bt, bb):
    p = figure(frame_width=fw, frame_height=fh,
               x_range=Range1d(0, 1), y_range=Range1d(y_ticks[0], y_ticks[-1]),
               output_backend="svg", toolbar_location=None,
               min_border_left=bl, min_border_right=br,
               min_border_top=bt, min_border_bottom=bb)
    p.grid.visible = False
    p.outline_line_color = FRAME
    p.outline_line_width = 2
    p.background_fill_color = "white"
    p.border_fill_color = "white"
    p.title.text = title
    p.title.align = "center"
    p.title.text_font = "DejaVu Sans"
    p.title.text_font_style = "bold"
    p.title.text_font_size = "18px"
    p.title.text_line_height = 1.0
    p.title.text_color = "black"
    p.title.standoff = 0
    style_axis(p.xaxis[0], x_major, [t for t in X_TICKS if t not in x_major])
    style_axis(p.yaxis[0], y_major, [t for t in y_ticks if t not in y_major])
    top = LinearAxis()
    style_axis(top, [], X_TICKS)
    p.add_layout(top, "above")
    right = LinearAxis()
    style_axis(right, [], y_ticks)
    p.add_layout(right, "right")
    p.multi_line(xs=[X_FRAC] * len(curves), ys=curves,
                 line_color=LINE, line_width=1.3, line_alpha=0.9)
    return p


def blank(w, h):
    p = figure(width=w, height=h, x_range=Range1d(0, w), y_range=Range1d(h, 0),
               output_backend="svg", toolbar_location=None, min_border=0,
               x_axis_type=None, y_axis_type=None)
    p.grid.visible = False
    p.outline_line_color = None
    return p


def txt(p, x, y, text, size, bold=False, font="Liberation Sans", angle=0.0,
        align="center", baseline="middle", color=LABEL_TXT):
    p.add_layout(Label(x=x, y=y, text=text, angle=angle, text_font=font,
                       text_font_size=size, text_font_style="bold" if bold else "normal",
                       text_align=align, text_baseline=baseline, text_color=color))


TOP_H = 40
XLAB_H = 38

# ---------------- panel A (positions) ----------------
# title needs 23 px above each frame
A_FW = [133, 133, 132]
A_BL = [32, 4, 5]
A_BR = [5, 5, 5]
A_FH = [112, 113, 113]
A_BT = [23, 23, 23]
A_BB = [8, 7, 21]

a_rows = []
for r in range(3):
    figs = []
    for c in range(3):
        i = r * 3 + c
        if c == 0:
            y_major = POS_Y_TICKS if r < 2 else POS_Y_TICKS[1:]
        else:
            y_major = []
        if r == 2:
            x_major = [0.0, 0.5, 1.0] if c == 0 else [0.5, 1.0]
        else:
            x_major = []
        figs.append(subplot(TITLES[i], POS[i], POS_Y_TICKS, y_major, x_major,
                            A_FW[c], A_FH[r], A_BL[c], A_BR[c], A_BT[r], A_BB[r]))
    a_rows.append(row(*figs, spacing=0))

a_top = blank(454, TOP_H)
a_xlab = blank(454, XLAB_H)
txt(a_xlab, 239, 20, "Fraction of Path", "29px")
a_grid = column(a_top, *a_rows, a_xlab, spacing=0)

left = blank(50, 521)
txt(left, 33, 24, "A", "32px", bold=True, font="DejaVu Sans", color="#222222")
txt(left, 29, 270, "Absolute Hand Positions [m]", "29px", angle=pi / 2)

# ---------------- panel B (velocities) ----------------
B_FW = [128, 128, 128]
B_BL = [33, 5, 5]
B_BR = [5, 4, 4]
B_FH = [111, 114, 112]
B_BT = [23, 23, 23]
B_BB = [7, 7, 23]

b_rows = []
for r in range(3):
    figs = []
    for c in range(3):
        i = r * 3 + c
        if c == 0:
            y_major = [0.0, 1.5] if r < 2 else [1.5]
        else:
            y_major = []
        if r == 2:
            x_major = [0.0, 0.5, 1.0] if c == 0 else [0.5, 1.0]
        else:
            x_major = []
        figs.append(subplot(TITLES[i], VEL[i], VEL_Y_TICKS, y_major, x_major,
                            B_FW[c], B_FH[r], B_BL[c], B_BR[c], B_BT[r], B_BB[r]))
    b_rows.append(row(*figs, spacing=0))

b_top = blank(440, TOP_H)
txt(b_top, 427, 23, "B", "29px", bold=True, font="DejaVu Sans", color="#222222")
b_xlab = blank(440, XLAB_H)
txt(b_xlab, 221, 20, "Fraction of Path", "29px")
b_grid = column(b_top, *b_rows, b_xlab, spacing=0)

gfig = blank(96, 521)
G_MID = [128, 266, 411]
G_SUP_MID = [117, 257, 398]
for k in range(3):
    txt(gfig, 53, G_MID[k], "g", "32px", bold=True, font="DejaVu Sans",
        align="left", color="#222222")
    txt(gfig, 77, G_SUP_MID[k], GROUP_SUPERSCRIPTS[k], "19px", bold=True,
        font="DejaVu Sans", align="left", color="#222222")

right = blank(99, 521)
txt(right, 72, 260, "Absolute", "29px", angle=-pi / 2)
txt(right, 25, 265, "Hand Velocities [m/Path]", "29px", angle=-pi / 2)

layout = row(left, a_grid, gfig, b_grid, right, spacing=0)
open("out.html", "w").write(file_html(layout, INLINE))
